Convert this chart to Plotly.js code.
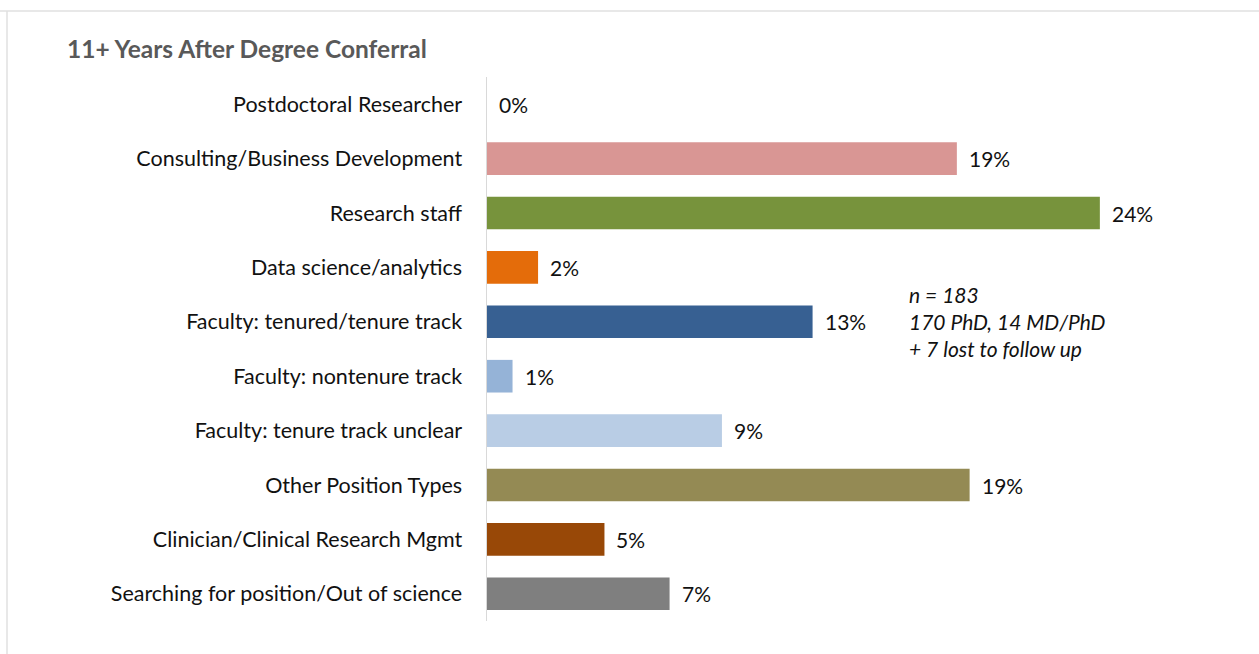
<!DOCTYPE html>
<html>
<head>
<meta charset="utf-8">
<script src="https://cdn.plot.ly/plotly-3.0.1.min.js"></script>
<style>html,body{margin:0;padding:0;background:#fff;}#chart{width:1259px;height:654px;}</style>
</head>
<body>
<div id="chart"></div>
<script>
const categories = [
  "Postdoctoral Researcher",
  "Consulting/Business Development",
  "Research staff",
  "Data science/analytics",
  "Faculty: tenured/tenure track",
  "Faculty: nontenure track",
  "Faculty: tenure track unclear",
  "Other Position Types",
  "Clinician/Clinical Research Mgmt",
  "Searching for position/Out of science"
];
const values = [0, 18.4, 24.0, 2.0, 12.75, 1.0, 9.2, 18.9, 4.6, 7.15];
const valueLabels = ["0%", "19%", "24%", "2%", "13%", "1%", "9%", "19%", "5%", "7%"];
const barColors = ["#d99694", "#d99694", "#77933c", "#e46c0a", "#376092", "#95b3d7", "#b9cde5", "#948a54", "#984807", "#7f7f7f"];
const titleText = "11+ Years After Degree Conferral";
const noteLines = ["n = 183", "170 PhD, 14 MD/PhD", "+ 7 lost to follow up"];

const FONT = "Lato, 'Open Sans', sans-serif";

const trace = {
  type: "bar",
  orientation: "h",
  y: categories,
  x: values,
  marker: {color: barColors},
  hoverinfo: "none",
  cliponaxis: false
};

const annotations = categories.map((c, i) => ({
  x: values[i], y: c, xref: "x", yref: "y",
  text: valueLabels[i], showarrow: false,
  xanchor: "left", yanchor: "middle", xshift: 10,
  font: {family: FONT, size: 21, color: "#111111"}
}));

noteLines.forEach((t, i) => {
  annotations.push({
    x: 0.587, y: 0.60 - i * 0.0496, xref: "paper", yref: "paper",
    text: "<i>" + t + "</i>", showarrow: false,
    xanchor: "left", yanchor: "middle",
    font: {family: FONT, size: 21, color: "#111111"}
  });
});

const layout = {
  width: 1259, height: 654,
  margin: {l: 487, r: 57, t: 77, b: 33},
  paper_bgcolor: "#ffffff", plot_bgcolor: "#ffffff",
  showlegend: false,
  bargap: 0.4,
  title: {
    text: "<b>" + titleText + "</b>",
    xref: "container", yref: "container",
    x: 67 / 1259, xanchor: "left",
    y: 1 - 49 / 654, yanchor: "middle",
    font: {family: FONT, size: 24.5, color: "#595959"}
  },
  xaxis: {range: [0, 28], visible: false, fixedrange: true},
  yaxis: {
    autorange: "reversed",
    showline: true, linecolor: "#d9d9d9", linewidth: 1.5,
    ticks: "outside", ticklen: 19, tickcolor: "rgba(0,0,0,0)",
    showgrid: false, zeroline: false,
    tickfont: {family: FONT, size: 21.5, color: "#111111"},
    fixedrange: true
  },
  annotations: annotations,
  shapes: [
    {type: "line", xref: "paper", yref: "paper", x0: -487/715, x1: (1259-487)/715, y0: 1 + 66/544, y1: 1 + 66/544, line: {color: "#e0e0e0", width: 1.5}},
    {type: "line", xref: "paper", yref: "paper", x0: -480/715, x1: -480/715, y0: 1 + 66/544, y1: -33/544, line: {color: "#e0e0e0", width: 1.5}}
  ]
};

Plotly.newPlot("chart", [trace], layout, {displayModeBar: false, staticPlot: true});
</script>
</body>
</html>
